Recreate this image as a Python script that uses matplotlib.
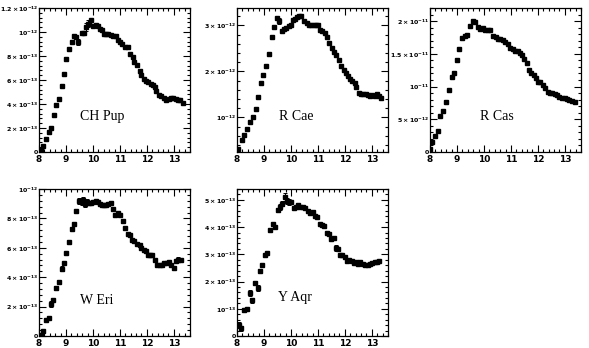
import matplotlib
matplotlib.use("Agg")
import matplotlib.pyplot as plt
from matplotlib.ticker import FixedLocator, MultipleLocator
import numpy as np

# ---------------- data (wavelength in micron, flux) ----------------
chpup_x = [8.06, 8.16, 8.26, 8.36, 8.44, 8.54, 8.64, 8.74, 8.84, 8.91, 9.01, 9.11, 9.21, 9.29,
           9.39, 9.46, 9.58, 9.67, 9.75, 9.80, 9.86, 9.94, 10.01, 10.12, 10.19, 10.26, 10.34,
           10.41, 10.49, 10.57, 10.68, 10.76, 10.84, 10.93, 11.00, 11.09, 11.19, 11.29, 11.38,
           11.48, 11.54, 11.64, 11.74, 11.80, 11.88, 11.98, 12.05, 12.14, 12.21, 12.30, 12.34,
           12.44, 12.53, 12.62, 12.71, 12.81, 12.89, 12.98, 13.08, 13.16, 13.24, 13.33]
chpup_y = [0.14, 0.49, 1.10, 1.64, 1.97, 3.07, 3.89, 4.44, 5.53, 6.52, 7.73, 8.55, 9.15, 9.64,
           9.59, 9.18, 9.92, 9.95, 10.41, 10.68, 10.68, 10.96, 10.47, 10.55, 10.47, 10.27, 10.19,
           9.86, 9.86, 9.86, 9.78, 9.64, 9.64, 9.37, 9.18, 8.99, 8.77, 8.71, 8.16,
           7.89, 7.53, 7.21, 6.79, 6.44, 6.08, 5.89, 5.81, 5.70, 5.56, 5.42, 5.07,
           4.74, 4.66, 4.52, 4.30, 4.38, 4.52, 4.47, 4.41, 4.30, 4.33, 4.05]
chpup_err = [0, 0, 0, 0, 0, 0, 0, 0, 0, 0, 0, 0, 0, 0,
             0, 0.25, 0, 0, 0.3, 0.3, 0, 0, 0, 0, 0, 0, 0,
             0, 0, 0, 0, 0, 0, 0, 0, 0, 0, 0, 0,
             0, 0, 0, 0, 0, 0, 0, 0, 0, 0, 0, 0,
             0, 0, 0, 0, 0, 0, 0, 0, 0, 0, 0]

rcae_x = [8.05, 8.17, 8.27, 8.38, 8.50, 8.59, 8.69, 8.78, 8.89, 8.98, 9.08, 9.18, 9.28, 9.37,
          9.48, 9.56, 9.67, 9.75, 9.83, 9.91, 9.99, 10.08, 10.16, 10.24, 10.31, 10.39, 10.47,
          10.58, 10.67, 10.76, 10.84, 10.93, 11.01, 11.09, 11.17, 11.26, 11.35, 11.43, 11.52,
          11.61, 11.69, 11.79, 11.87, 11.95, 12.03, 12.11, 12.20, 12.28, 12.36, 12.43, 12.51,
          12.60, 12.68, 12.77, 12.85, 12.95, 13.02, 13.10, 13.18, 13.27, 13.35]
rcae_y = [0.31, 0.50, 0.62, 0.75, 0.91, 1.02, 1.19, 1.45, 1.76, 1.93, 2.11, 2.37, 2.74, 2.96,
          3.16, 3.10, 2.88, 2.93, 2.95, 2.98, 3.02, 3.11, 3.14, 3.19, 3.21, 3.21, 3.09,
          3.05, 3.02, 3.00, 3.00, 3.01, 3.01, 2.91, 2.88, 2.84, 2.76, 2.61, 2.51,
          2.43, 2.36, 2.25, 2.11, 2.04, 1.96, 1.91, 1.84, 1.79, 1.75, 1.66, 1.54,
          1.50, 1.52, 1.50, 1.48, 1.46, 1.48, 1.46, 1.50, 1.46, 1.42]
rcae_err = [0] * 15 + [0.06] + [0] * 45

rcas_x = [8.00, 8.07, 8.18, 8.28, 8.38, 8.49, 8.59, 8.71, 8.80, 8.89, 9.00, 9.09, 9.18, 9.28,
          9.38, 9.49, 9.59, 9.68, 9.78, 9.87, 9.96, 10.05, 10.14, 10.24, 10.33, 10.43, 10.53,
          10.61, 10.70, 10.79, 10.88, 10.97, 11.07, 11.16, 11.25, 11.33, 11.41, 11.50, 11.58,
          11.67, 11.75, 11.84, 11.92, 12.01, 12.09, 12.18, 12.28, 12.37, 12.45, 12.54, 12.63,
          12.71, 12.80, 12.89, 12.99, 13.09, 13.17, 13.26, 13.36]
rcas_y = [0.40, 1.53, 2.37, 3.21, 5.48, 6.22, 7.65, 9.53, 11.51, 12.10, 13.98, 15.80, 17.43, 17.68,
          17.93, 19.31, 20.00, 19.80, 19.16, 18.81, 19.01, 18.67, 18.67, 18.57, 17.68, 17.53, 17.19,
          17.33, 17.04, 16.84, 16.54, 15.95, 15.70, 15.46, 15.36, 15.06, 14.81, 14.22, 13.58,
          12.59, 12.10, 11.75, 11.26, 10.77, 10.62, 10.27, 9.78, 9.14, 9.04, 8.94, 8.79,
          8.64, 8.44, 8.30, 8.20, 8.05, 7.95, 7.80, 7.65]

weri_x = [8.06, 8.16, 8.26, 8.36, 8.44, 8.53, 8.64, 8.74, 8.84, 8.91, 9.01, 9.11, 9.21, 9.29,
          9.39, 9.48, 9.58, 9.65, 9.71, 9.78, 9.87, 9.94, 10.01, 10.12, 10.19, 10.26, 10.34,
          10.41, 10.50, 10.57, 10.66, 10.74, 10.83, 10.93, 11.00, 11.10, 11.19, 11.29, 11.37,
          11.46, 11.54, 11.63, 11.73, 11.80, 11.88, 11.95, 12.04, 12.12, 12.20, 12.30, 12.37,
          12.47, 12.55, 12.65, 12.73, 12.82, 12.90, 13.00, 13.08, 13.17, 13.26]
weri_y = [0.07, 0.34, 1.09, 1.20, 2.15, 2.42, 3.28, 3.69, 4.59, 4.95, 5.66, 6.38, 7.29, 7.65,
          8.48, 9.16, 9.10, 9.23, 8.98, 9.12, 9.05, 9.05, 9.12, 9.21, 9.10, 9.00, 8.94,
          8.94, 8.91, 8.98, 9.05, 8.64, 8.26, 8.37, 8.21, 7.81, 7.35, 6.95, 6.90,
          6.52, 6.49, 6.29, 6.18, 6.00, 5.88, 5.77, 5.48, 5.54, 5.48, 5.16, 4.86,
          4.86, 4.84, 4.98, 4.98, 5.05, 4.86, 4.64, 5.09, 5.20, 5.16]
weri_err = [0, 0, 0, 0, 0.2, 0, 0.15, 0, 0.15, 0, 0, 0, 0, 0,
            0, 0.2, 0.2, 0.2, 0.2, 0.2, 0, 0, 0, 0, 0, 0, 0,
            0, 0, 0, 0, 0, 0, 0, 0, 0, 0, 0, 0,
            0, 0, 0, 0, 0, 0, 0, 0, 0, 0, 0, 0,
            0, 0, 0, 0, 0, 0, 0, 0, 0.15, 0]

yaqr_x = [8.06, 8.15, 8.27, 8.36, 8.47, 8.57, 8.67, 8.77, 8.86, 8.94, 9.04, 9.12, 9.23, 9.33,
          9.42, 9.51, 9.58, 9.68, 9.77, 9.85, 9.94, 10.01, 10.10, 10.17, 10.26, 10.35, 10.44,
          10.53, 10.62, 10.72, 10.80, 10.88, 10.98, 11.06, 11.16, 11.23, 11.32, 11.42, 11.49,
          11.58, 11.67, 11.75, 11.83, 11.90, 12.00, 12.09, 12.17, 12.26, 12.33, 12.42, 12.49,
          12.58, 12.67, 12.75, 12.84, 12.93, 13.01, 13.10, 13.19, 13.27]
yaqr_y = [0.41, 0.28, 0.96, 0.99, 1.58, 1.31, 1.95, 1.76, 2.40, 2.62, 2.97, 3.05, 3.88, 4.13,
          4.00, 4.62, 4.74, 4.86, 5.11, 4.96, 4.93, 4.93, 4.69, 4.74, 4.80, 4.74, 4.75,
          4.72, 4.59, 4.53, 4.56, 4.41, 4.37, 4.13, 4.06, 4.04, 3.79, 3.76, 3.57,
          3.61, 3.24, 3.18, 2.99, 2.97, 2.89, 2.77, 2.78, 2.75, 2.68, 2.71, 2.65,
          2.72, 2.65, 2.62, 2.59, 2.65, 2.68, 2.71, 2.72, 2.75]
yaqr_err = [0.1, 0.1, 0.08, 0, 0.12, 0.1, 0.08, 0.1, 0, 0, 0, 0, 0, 0,
            0, 0.08, 0.1, 0.1, 0.15, 0.1, 0.1, 0, 0, 0, 0, 0, 0,
            0, 0, 0, 0, 0, 0, 0, 0, 0, 0, 0, 0,
            0, 0.1, 0, 0, 0, 0, 0, 0, 0, 0, 0, 0,
            0, 0, 0, 0, 0, 0, 0, 0, 0]

xticks = [8, 9, 10, 11, 12, 13]
xlabels = ["8", "9", "10", "11", "12", "13"]

panels = [
    dict(name="CH Pup", x=chpup_x, y=chpup_y, err=chpup_err, scale=1e-13,
         ylim=(0, 1.2e-12), yticks=[0, 2e-13, 4e-13, 6e-13, 8e-13, 1e-12, 1.2e-12],
         ylabels=["0", r"$2\times10^{-13}$", r"$4\times10^{-13}$", r"$6\times10^{-13}$",
                  r"$8\times10^{-13}$", r"$10^{-12}$", r"$1.2\times10^{-12}$"],
         minor=4e-14, pos=(39, 8, 190, 152), label_xy=(0.27, 0.22)),
    dict(name="R Cae", x=rcae_x, y=rcae_y, err=rcae_err, scale=1e-12,
         ylim=(0.25e-12, 3.38e-12), yticks=[1e-12, 2e-12, 3e-12],
         ylabels=[r"$10^{-12}$", r"$2\times10^{-12}$", r"$3\times10^{-12}$"],
         minor=2e-13, pos=(237, 8, 388, 152), label_xy=(0.28, 0.22)),
    dict(name="R Cas", x=rcas_x, y=rcas_y, err=None, scale=1e-12,
         ylim=(0, 2.2e-11), yticks=[0, 5e-12, 1e-11, 1.5e-11, 2e-11],
         ylabels=["0", r"$5\times10^{-12}$", r"$10^{-11}$", r"$1.5\times10^{-11}$",
                  r"$2\times10^{-11}$"],
         minor=1e-12, pos=(430, 8, 581, 152), label_xy=(0.33, 0.22)),
    dict(name="W Eri", x=weri_x, y=weri_y, err=weri_err, scale=1e-13,
         ylim=(0, 1e-12), yticks=[0, 2e-13, 4e-13, 6e-13, 8e-13, 1e-12],
         ylabels=["0", r"$2\times10^{-13}$", r"$4\times10^{-13}$", r"$6\times10^{-13}$",
                  r"$8\times10^{-13}$", r"$10^{-12}$"],
         minor=4e-14, pos=(39, 189, 190, 336), label_xy=(0.27, 0.22)),
    dict(name="Y Aqr", x=yaqr_x, y=yaqr_y, err=yaqr_err, scale=1e-13,
         ylim=(0, 5.4e-13), yticks=[0, 1e-13, 2e-13, 3e-13, 4e-13, 5e-13],
         ylabels=["0", r"$10^{-13}$", r"$2\times10^{-13}$", r"$3\times10^{-13}$",
                  r"$4\times10^{-13}$", r"$5\times10^{-13}$"],
         minor=2e-14, pos=(237, 189, 388, 336), label_xy=(0.27, 0.24)),
]

plt.rcParams["mathtext.default"] = "bf"
plt.rcParams["font.family"] = ["DejaVu Sans"]

W, H = 589, 348
fig = plt.figure(figsize=(W / 100, H / 100), dpi=100)

for p in panels:
    l, t, r, b = p["pos"]
    ax = fig.add_axes([l / W, 1 - b / H, (r - l) / W, (b - t) / H])
    xs = np.array(p["x"])
    ys = np.array(p["y"]) * p["scale"]
    if p["err"] is not None:
        es = np.array(p["err"]) * p["scale"]
        ax.errorbar(xs, ys, yerr=es, fmt="none", ecolor="black", elinewidth=0.7,
                    capsize=1.3, capthick=0.7)
    ax.plot(xs, ys, linestyle="none", marker="s", ms=2.6, color="black", mec="black")
    ax.set_xlim(8, 13.6)
    ax.set_ylim(*p["ylim"])
    ax.xaxis.set_major_locator(FixedLocator(xticks))
    ax.set_xticklabels(xlabels, fontsize=6.5, fontweight="bold")
    ax.xaxis.set_minor_locator(MultipleLocator(0.2))
    ax.yaxis.set_major_locator(FixedLocator(p["yticks"]))
    ax.set_yticklabels(p["ylabels"], fontsize=4.5, fontweight="bold")
    ax.yaxis.set_minor_locator(MultipleLocator(p["minor"]))
    ax.tick_params(which="both", direction="in", top=True, right=True, width=0.8,
                   colors="black")
    ax.tick_params(axis="y", pad=0.4)
    ax.tick_params(axis="x", pad=2.5)
    ax.tick_params(which="major", length=5)
    ax.tick_params(which="minor", length=2.5)
    for s in ax.spines.values():
        s.set_linewidth(0.9)
    ax.text(p["label_xy"][0], p["label_xy"][1], p["name"], transform=ax.transAxes,
            fontsize=10, family="Liberation Serif", ha="left", va="baseline")

fig.savefig("out.png", dpi=100)
